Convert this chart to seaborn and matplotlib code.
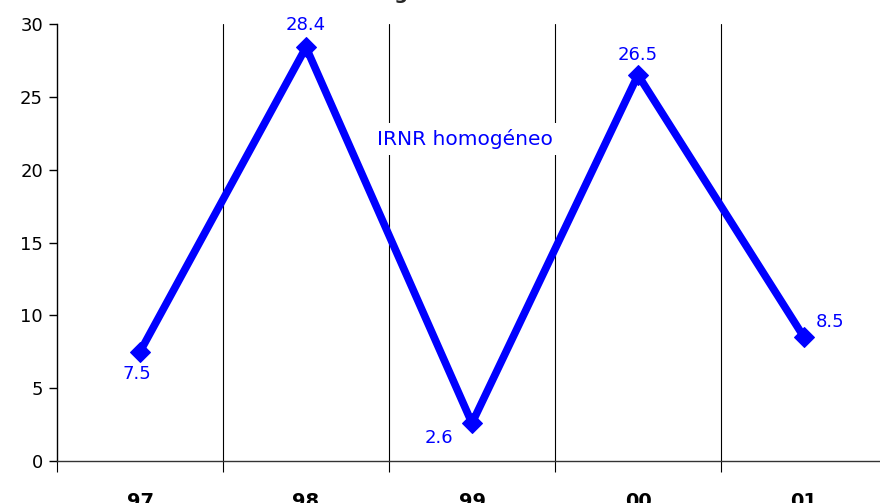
import matplotlib
matplotlib.use("Agg")
import matplotlib.pyplot as plt
import seaborn as sns
import pandas as pd
import numpy as np

years = ["97", "98", "99", "00", "01"]
values = [7.5, 28.4, 2.6, 26.5, 8.5]
series_name = "IRNR homogéneo"
title = "IRNR homogéneo"

sns.set_style("white")
plt.rcParams['font.family'] = ['DejaVu Sans']

df = pd.DataFrame({"x": np.arange(len(years)), "y": values})

fig = plt.figure(figsize=(8.8, 5.03), dpi=100)
ax = fig.add_axes([57/880, 42/503, 830/880, 437/503])

sns.lineplot(data=df, x="x", y="y", ax=ax, color="#0000FF", linewidth=5.5,
             marker="D", markersize=10, markeredgecolor="#0000FF", zorder=3)

ax.set_xlim(-0.5, len(years) - 0.5)
ax.set_ylim(0, 30)
ax.set_yticks(range(0, 31, 5))
ax.tick_params(axis="y", left=True, labelsize=13, labelcolor="black", length=6, width=1,
               color="black", direction="out", pad=4)

# category boundary grid lines and ticks
bounds = np.arange(-0.5, len(years) + 0.5, 1)
for b in bounds[1:-1]:
    ax.axvline(b, color="black", linewidth=0.8, zorder=1)
ax.set_xticks(bounds)
ax.set_xticklabels([])
ax.tick_params(axis="x", which="major", bottom=True, length=8, width=0.8, color="black", direction="out")
ax.set_xticks(np.arange(len(years)), minor=True)
ax.set_xticklabels(years, minor=True, fontsize=14, fontweight="bold")
ax.tick_params(axis="x", which="minor", bottom=True, length=0, pad=22, labelcolor="black")

ax.set_xlabel("")
ax.set_ylabel("")
for s in ["top", "right"]:
    ax.spines[s].set_visible(False)
ax.spines["left"].set_color("black")
ax.spines["left"].set_linewidth(1)
ax.spines["bottom"].set_color("#333333")
ax.spines["bottom"].set_linewidth(1)

# data labels
offsets = [(-0.02, -1.5), (0.0, 1.5), (-0.2, -1.0), (0.0, 1.4), (0.16, 1.05)]
for i, (v, (dx, dy)) in enumerate(zip(values, offsets)):
    ax.text(i + dx, v + dy, f"{v}", color="#0000FF", fontsize=13, ha="center", va="center")

ax.text(1.96, 22.1, series_name, color="#0000FF", fontsize=14.5, ha="center", va="center",
        zorder=2, bbox=dict(facecolor="white", edgecolor="none", pad=4))

fig.text(368/880, 1.0 + 1/503, title, fontsize=14, fontweight="bold", ha="center", va="baseline")

fig.savefig("out.png", dpi=100)
